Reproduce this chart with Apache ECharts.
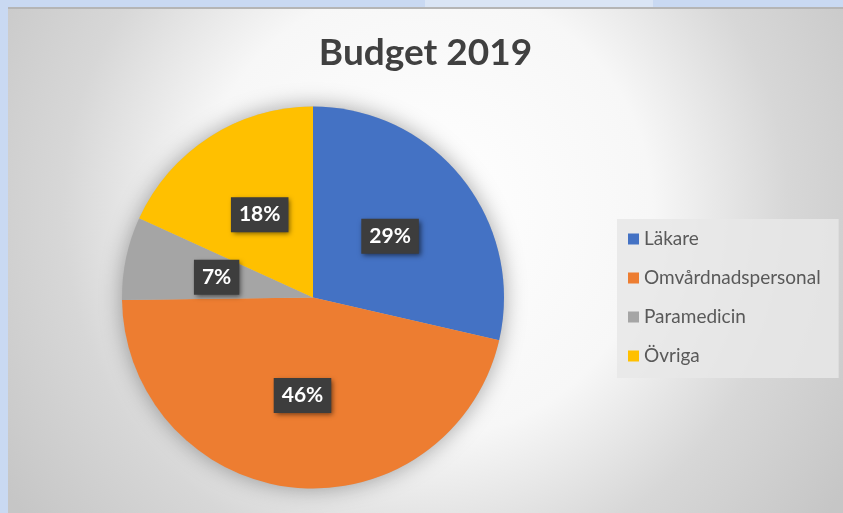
<!DOCTYPE html>
<html>
<head>
<meta charset="utf-8">
<script src="https://cdn.jsdelivr.net/npm/echarts@6/dist/echarts.min.js"></script>
<style>
  html, body { margin: 0; padding: 0; width: 843px; height: 513px; overflow: hidden; background: #c9d9f2; }
  #strip { position: absolute; left: 425px; top: 0; width: 228px; height: 7px; background: #dae5f5; }
  #line { position: absolute; left: 8px; top: 7px; width: 835px; height: 2px; background: #b5b5b5; }
  #chart { position: absolute; left: 8px; top: 9px; width: 835px; height: 504px; }
</style>
</head>
<body>
<div id="strip"></div>
<div id="line"></div>
<div id="chart"></div>
<script>
const titleText = 'Budget 2019';
const categories = ['Läkare', 'Omvårdnadspersonal', 'Paramedicin', 'Övriga'];
const values = [28.6, 46.2, 7.0, 18.2];
const colors = ['#4472C4', '#ED7D31', '#A5A5A5', '#FFC000'];

const chart = echarts.init(document.getElementById('chart'), null, { renderer: 'canvas' });
const FONT = 'Lato, "Open Sans", sans-serif';

chart.setOption({
  animation: false,
  backgroundColor: {
    type: 'radial', x: 0.5, y: 0.4, r: 1.0,
    colorStops: [
      { offset: 0, color: '#ffffff' },
      { offset: 0.45, color: '#f7f7f7' },
      { offset: 0.72, color: '#d7d7d7' },
      { offset: 0.92, color: '#cbcbcb' },
      { offset: 1, color: '#c6c6c6' }
    ]
  },
  color: colors,
  title: {
    text: titleText,
    left: 'center',
    top: 21,
    textStyle: { fontFamily: FONT, fontWeight: 'bold', fontSize: 37, color: '#404040' }
  },
  legend: {
    orient: 'vertical',
    left: 609,
    top: 210,
    data: categories,
    icon: 'rect',
    itemWidth: 11,
    itemHeight: 11,
    itemGap: 17,
    padding: [9, 18, 11, 11],
    backgroundColor: 'rgba(232,232,232,0.85)',
    textStyle: { fontFamily: FONT, fontSize: 19, color: '#595959', lineHeight: 22 }
  },
  series: [
    {
      type: 'pie',
      silent: true,
      center: [305, 288.5],
      radius: 191,
      label: { show: false },
      labelLine: { show: false },
      itemStyle: { color: '#bbbbbb', shadowBlur: 22, shadowColor: 'rgba(0,0,0,0.35)' },
      data: [{ value: 1, name: '__shadow__' }]
    },
    {
      type: 'pie',
      center: [305, 288.5],
      radius: 191,
      startAngle: 90,
      clockwise: true,
      percentPrecision: 0,
      label: {
        show: true,
        position: 'inside',
        formatter: '{d}%',
        fontFamily: FONT,
        fontWeight: 'bold',
        fontSize: 21,
        lineHeight: 25,
        color: '#ffffff',
        backgroundColor: '#3d3d3d',
        padding: [5, 8, 5, 8],
        shadowColor: 'rgba(0,0,0,0.55)',
        shadowBlur: 5,
        shadowOffsetX: 2,
        shadowOffsetY: 2
      },
      labelLine: { show: false },
      itemStyle: { borderWidth: 0 },
      data: categories.map((c, i) => ({ name: c, value: values[i] }))
    }
  ]
});
</script>
</body>
</html>
